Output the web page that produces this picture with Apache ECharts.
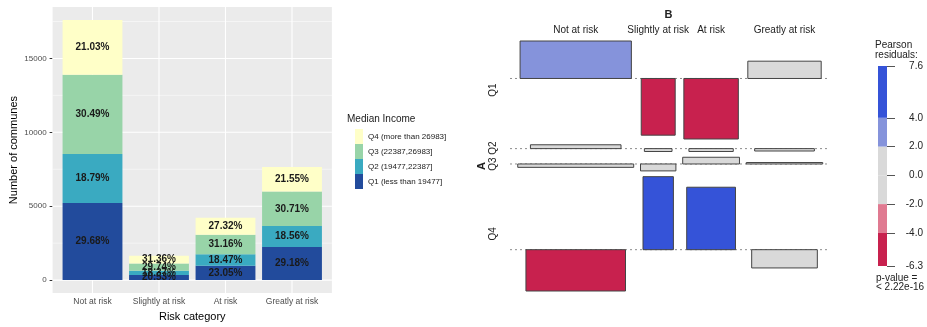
<!DOCTYPE html>
<html>
<head>
<meta charset="utf-8">
<script src="https://cdn.jsdelivr.net/npm/echarts@6/dist/echarts.min.js"></script>
<style>
html,body{margin:0;padding:0;background:#fff;}
#chart{width:927px;height:327px;}
</style>
</head>
<body>
<div id="chart"></div>
<script>
// risk categories (x of the bar chart, columns of the association plot)
var categories = ['Not at risk', 'Slightly at risk', 'At risk', 'Greatly at risk'];
// bar heights (number of communes per risk category)
var totals = [17600, 1640, 4220, 7650];
// share of each income quartile inside a risk category (%)
var incomeNames = ['Q1 (less than 19477]', 'Q2 (19477,22387]', 'Q3 (22387,26983]', 'Q4 (more than 26983]'];
var pctQ1 = [29.68, 20.53, 23.05, 29.18];
var pctQ2 = [18.79, 18.37, 18.47, 18.56];
var pctQ3 = [30.49, 29.74, 31.16, 30.71];
var pctQ4 = [21.03, 31.36, 27.32, 21.55];
var yTicks = [0, 5000, 10000, 15000];

// association plot: pearson residuals, rows Q1..Q4
var rowLabels = ['Q1', 'Q2', 'Q3', 'Q4'];
var residQ1 = [3.9, -5.9, -6.3, 1.8];
var residQ2 = [0.4, -0.3, -0.3, -0.25];
var residQ3 = [-0.35, -0.72, 0.7, 0.15];
var residQ4 = [-4.3, 7.6, 6.5, -1.9];
var residBreaks = [-4, -2, 2, 4];
var pValueText = '< 2.22e-16';

var barColors = ['#224b9c', '#3aaac1', '#98d4a8', '#ffffc8'];
var resColors = ['#c8214e', '#e07a91', '#d9d9d9', '#8593db', '#3553d8'];
var fontFam = '"Liberation Sans", Arial, sans-serif';

var pct = [pctQ1, pctQ2, pctQ3, pctQ4];
var resid = [residQ1, residQ2, residQ3, residQ4];

/* counts and expected counts */
var counts = pct.map(function (row) {
    return row.map(function (p, j) { return totals[j] * p / 100; });
});
var N = totals.reduce(function (a, b) { return a + b; }, 0);
var rowTot = counts.map(function (row) { return row.reduce(function (a, b) { return a + b; }, 0); });
var sqrtExp = rowTot.map(function (rt) {
    return totals.map(function (ct) { return Math.sqrt(rt * ct / N); });
});

/* layout of the association plot */
var gapX = 4.3, padL = 4.9, padR = 2.7, gapY = 0.6;
var colCenter = [], xPos = 0;
categories.forEach(function (c, j) {
    var w = Math.max.apply(null, sqrtExp.map(function (r) { return r[j]; }));
    colCenter.push(xPos + w / 2);
    xPos += w + gapX;
});
var xMax = xPos - gapX + padR;
var baseline = [], rowCenter = [], yPos = 0;
resid.forEach(function (row) {
    var up = Math.max(0, Math.max.apply(null, row));
    var down = Math.max(0, -Math.min.apply(null, row));
    baseline.push(yPos + up);
    rowCenter.push(yPos + (up + down) / 2);
    yPos += up + down + gapY;
});
var yMax = yPos - gapY;

var cells = [];
resid.forEach(function (row, i) {
    row.forEach(function (r, j) {
        cells.push([colCenter[j], baseline[i], r, sqrtExp[i][j]]);
    });
});

var resMin = Math.min.apply(null, [].concat.apply([], resid));
var resMax = Math.max.apply(null, [].concat.apply([], resid));
var legendTicks = [resMin].concat(residBreaks.slice(0, 2), [0], residBreaks.slice(2), [resMax]);

function residColor(r) {
    if (r < residBreaks[0]) return resColors[0];
    if (r < residBreaks[1]) return resColors[1];
    if (r <= residBreaks[2]) return resColors[2];
    if (r <= residBreaks[3]) return resColors[3];
    return resColors[4];
}

function nearestIndex(list, v) {
    var best = 0;
    list.forEach(function (x, k) { if (Math.abs(x - v) < Math.abs(list[best] - v)) best = k; });
    return best;
}

/* ggplot style panel: background + grid lines (panel reaches 0.6 band past the outer bars) */
var panelPad = 0.1;
var gridLines = [[2, 0, 0]];
yTicks.forEach(function (v) { gridLines.push([0, v, 1.1]); gridLines.push([0, v + 2500, 0.5]); });
categories.forEach(function (c, j) { gridLines.push([1, j, 1.1]); });

var chart = echarts.init(document.getElementById('chart'));

var series = [{
    type: 'custom',
    xAxisIndex: 0, yAxisIndex: 0,
    silent: true, z: 1,
    clip: false,
    data: gridLines,
    renderItem: function (params, api) {
        var cs = params.coordSys;
        var band = api.size([1, 0])[0];
        var left = cs.x - band * panelPad, right = cs.x + cs.width + band * panelPad;
        var kind = api.value(0), v = api.value(1);
        if (kind === 2) {
            return {type: 'rect', z2: 0, shape: {x: left, y: cs.y, width: right - left, height: cs.height},
                style: {fill: '#ebebeb'}};
        }
        var shape;
        if (kind === 0) {
            var y = api.coord([0, v])[1];
            shape = {x1: left, y1: y, x2: right, y2: y};
        } else {
            var x = api.coord([v, 0])[0];
            shape = {x1: x, y1: cs.y, x2: x, y2: cs.y + cs.height};
        }
        return {type: 'line', z2: 1, shape: shape, style: {stroke: '#ffffff', lineWidth: api.value(2)}};
    }
}];

counts.forEach(function (row, i) {
    series.push({
        name: incomeNames[i],
        type: 'bar',
        stack: 'communes',
        xAxisIndex: 0, yAxisIndex: 0,
        barWidth: '90%',
        z: 2,
        itemStyle: {color: barColors[i]},
        label: {
            show: true,
            position: 'inside',
            fontSize: 10,
            fontWeight: 'bold',
            color: '#1a1a1a',
            formatter: function (p) { return pct[i][p.dataIndex].toFixed(2) + '%'; }
        },
        data: row
    });
});

// dotted baselines of the association plot
series.push({
    type: 'custom',
    xAxisIndex: 1, yAxisIndex: 1,
    silent: true, z: 1,
    data: baseline.map(function (b) { return [0, b]; }),
    renderItem: function (params, api) {
        var cs = params.coordSys;
        var y = api.coord([0, api.value(1)])[1];
        return {type: 'line', shape: {x1: cs.x, y1: y, x2: cs.x + cs.width, y2: y},
            style: {stroke: '#8c8c8c', lineWidth: 1, lineDash: [2, 3]}};
    }
});

// residual rectangles
series.push({
    type: 'custom',
    xAxisIndex: 1, yAxisIndex: 1,
    silent: true, z: 2,
    data: cells,
    renderItem: function (params, api) {
        var xc = api.value(0), b = api.value(1), r = api.value(2), w = api.value(3);
        var p1 = api.coord([xc - w / 2, b - Math.max(r, 0)]);
        var p2 = api.coord([xc + w / 2, b - Math.min(r, 0)]);
        return {
            type: 'rect',
            shape: {x: p1[0], y: p1[1], width: p2[0] - p1[0], height: p2[1] - p1[1]},
            style: {fill: residColor(r), stroke: '#444444', lineWidth: 1}
        };
    }
});

// colour key of the residuals, one stacked piece per class
var keyPieces = [
    [legendTicks[2] - legendTicks[3], 2],
    [legendTicks[1] - legendTicks[2], 1],
    [legendTicks[0] - legendTicks[1], 0],
    [legendTicks[4] - legendTicks[3], 2],
    [legendTicks[5] - legendTicks[4], 3],
    [legendTicks[6] - legendTicks[5], 4]
];
keyPieces.forEach(function (pc) {
    series.push({
        type: 'bar',
        stack: 'key',
        xAxisIndex: 2, yAxisIndex: 2,
        barWidth: '100%',
        silent: true,
        itemStyle: {color: resColors[pc[1]]},
        data: [pc[0]]
    });
});

var option = {
    animation: false,
    textStyle: {fontFamily: fontFam},
    title: [
        {text: 'Median Income', left: 347, top: 114, padding: 0,
            textStyle: {fontSize: 10, fontWeight: 'normal', color: '#1a1a1a', fontFamily: fontFam}},
        {text: 'Pearson\nresiduals:', left: 875, top: 40, padding: 0,
            textStyle: {fontSize: 10, fontWeight: 'normal', color: '#222', lineHeight: 10, fontFamily: fontFam}},
        {text: 'p-value =\n' + pValueText, left: 876, top: 274, padding: 0,
            textStyle: {fontSize: 10, fontWeight: 'normal', color: '#222', lineHeight: 9, fontFamily: fontFam}}
    ],
    legend: {
        data: incomeNames.slice().reverse(),
        orient: 'vertical',
        left: 355, top: 129,
        itemWidth: 8, itemHeight: 15, itemGap: 0,
        icon: 'rect',
        padding: 0,
        selectedMode: false,
        textStyle: {fontSize: 8, color: '#1a1a1a', fontFamily: fontFam}
    },
    grid: [
        {left: 59.25, right: 601.75, top: 7, bottom: 29},
        {left: 510, right: 100, top: 41, bottom: 36},
        {left: 878, width: 9, top: 66, bottom: 61}
    ],
    xAxis: [
        {
            gridIndex: 0, type: 'category', data: categories,
            name: 'Risk category', nameLocation: 'middle', nameGap: 13,
            nameTextStyle: {fontSize: 11, color: '#000'},
            axisLine: {show: false},
            axisTick: {show: true, alignWithLabel: true, length: 3, lineStyle: {color: '#333'}},
            axisLabel: {margin: 4, fontSize: 8.5, color: '#4d4d4d', interval: 0},
            splitLine: {show: false}
        },
        {
            gridIndex: 1, type: 'value', min: -padL, max: xMax, position: 'top',
            name: 'B', nameLocation: 'middle', nameGap: 20,
            nameTextStyle: {fontSize: 11, fontWeight: 'bold', color: '#222'},
            axisLine: {show: false}, axisTick: {show: false}, splitLine: {show: false},
            axisLabel: {customValues: colCenter, margin: 6, fontSize: 10, color: '#222',
                formatter: function (v) { return categories[nearestIndex(colCenter, v)]; }}
        },
        {
            gridIndex: 2, type: 'category', data: ['key'], show: false
        }
    ],
    yAxis: [
        {
            gridIndex: 0, type: 'value', min: -880, max: 18480, offset: 6.65,
            name: 'Number of communes', nameLocation: 'middle', nameGap: 33,
            nameTextStyle: {fontSize: 11, color: '#000'},
            axisLine: {show: false},
            axisTick: {show: true, customValues: yTicks, length: 3, lineStyle: {color: '#333'}},
            axisLabel: {customValues: yTicks, margin: 6, fontSize: 8, color: '#4d4d4d',
                formatter: function (v) { return String(v); }},
            splitLine: {show: false}
        },
        {
            gridIndex: 1, type: 'value', min: 0, max: yMax, inverse: true,
            name: 'A', nameLocation: 'middle', nameGap: 19, nameRotate: 90,
            nameTextStyle: {fontSize: 11, fontWeight: 'bold', color: '#222'},
            axisLine: {show: false}, axisTick: {show: false}, splitLine: {show: false},
            axisLabel: {customValues: rowCenter, margin: 12, rotate: 90, fontSize: 10, color: '#222',
                formatter: function (v) { return rowLabels[nearestIndex(rowCenter, v)]; }}
        },
        {
            gridIndex: 2, type: 'value', min: resMin, max: resMax, position: 'right',
            axisLine: {show: false}, splitLine: {show: false},
            axisTick: {show: true, customValues: legendTicks, length: 8, lineStyle: {color: '#555'}},
            axisLabel: {customValues: legendTicks, margin: 36, align: 'right', fontSize: 10, color: '#222',
                formatter: function (v) { return v.toFixed(1); }}
        }
    ],
    series: series
};

chart.setOption(option);
</script>
</body>
</html>
